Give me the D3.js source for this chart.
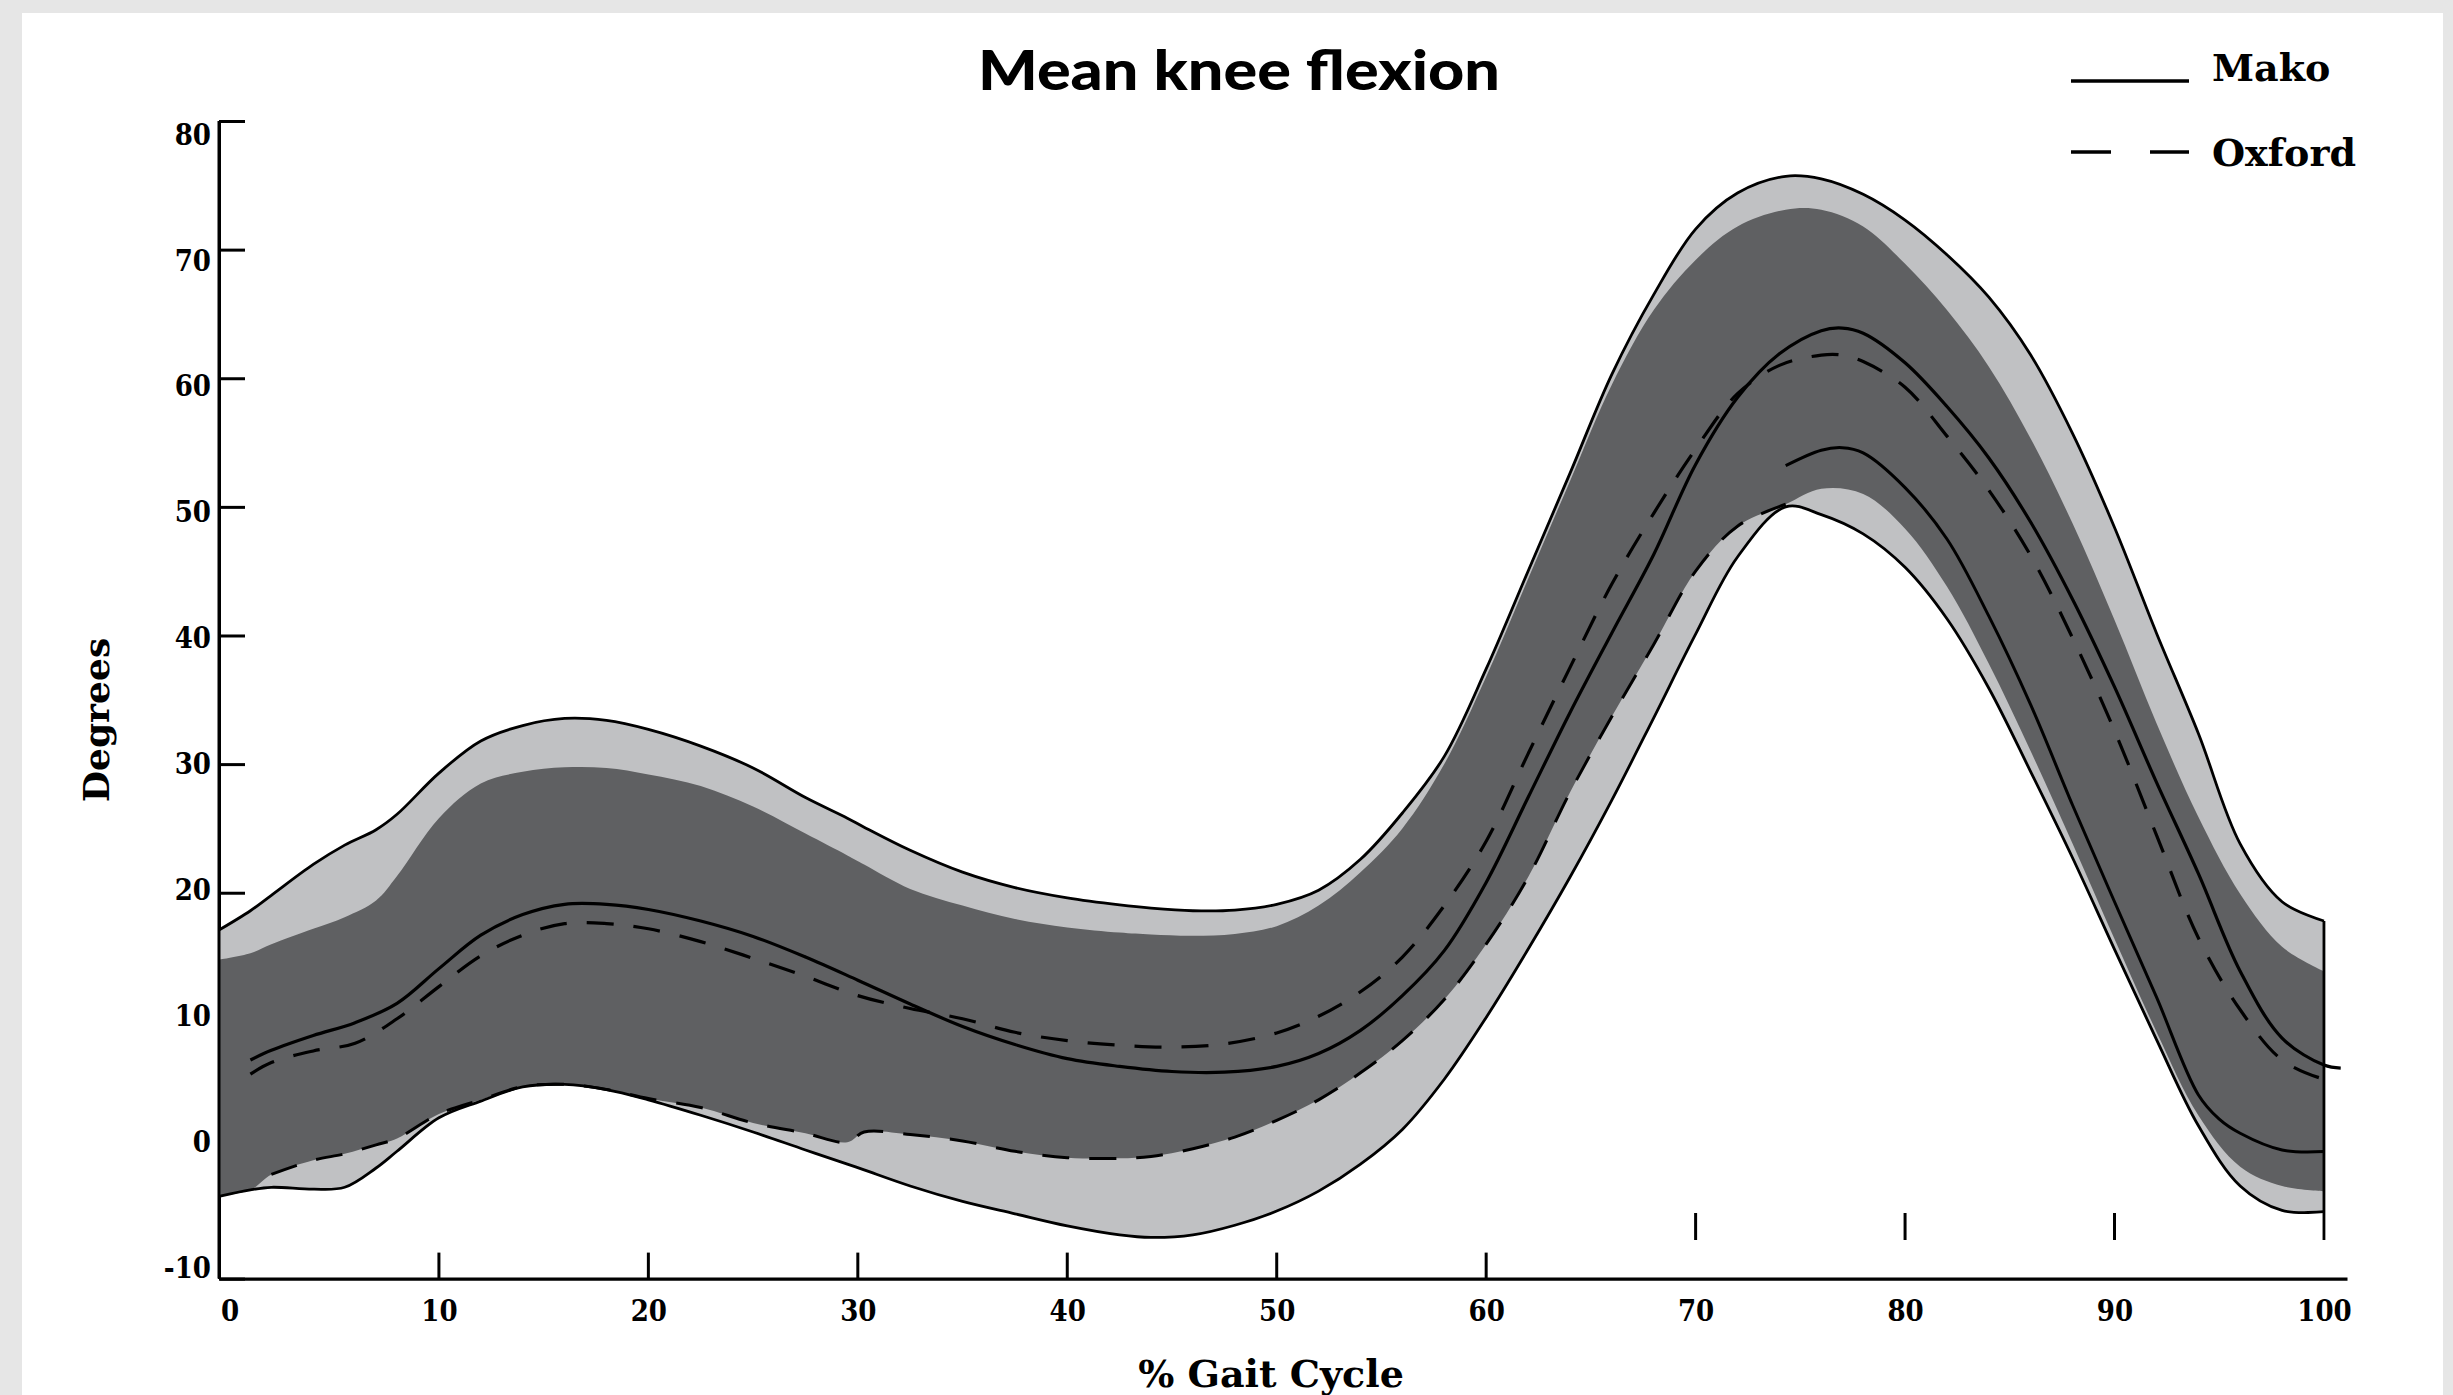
<!DOCTYPE html>
<html>
<head>
<meta charset="utf-8">
<script src="https://cdn.jsdelivr.net/npm/d3@7"></script>
<style>
  body { margin: 0; background: #e6e6e6; }
  svg { display: block; }
  .tick-label { font-family: "DejaVu Serif Condensed", "DejaVu Serif", serif; font-stretch: condensed; font-weight: bold; font-size: 29px; fill: #000; }
</style>
</head>
<body>
<div id="chart"></div>
<script>
// % gait cycle sample points shared by the band edges
var gait = [-0.5, 1, 2, 4, 5.5, 7, 8, 10, 12, 14, 16, 18, 20, 22.5, 25, 27.5, 29.5, 30.3, 32.5, 35, 37.5, 40, 42.5, 44, 46, 48,
  50, 52, 54, 56, 58, 60, 62, 64, 66, 68, 70, 72, 74.3, 76, 78, 80, 82, 84, 86, 88, 90, 92, 94, 96, 98, 100];

// light grey envelope (outlined in black)
var outerUpper = [17.1, 18.6, 19.8, 22.2, 23.7, 24.9, 26.1, 29.3, 31.8, 33.0, 33.55, 33.4, 32.7, 31.4, 29.7, 27.4, 25.8, 25.1, 23.3, 21.6, 20.4, 19.6, 19.05, 18.8, 18.6, 18.65,
  19.1, 20.2, 22.6, 26.2, 30.6, 37.4, 45.0, 52.6, 60.3, 66.5, 71.6, 74.4, 75.7, 75.5, 74.3, 72.3, 69.6, 66.3, 61.8, 55.7, 48.4, 40.2, 32.4, 23.8, 19.3, 17.8];
var outerLower = [-3.6, -3.1, -2.9, -3.05, -2.9, -1.4, -0.1, 2.5, 3.8, 4.9, 5.1, 4.7, 3.9, 2.7, 1.4, 0.0, -1.1, -1.55, -2.8, -4.0, -4.96, -5.9, -6.6, -6.8, -6.6, -5.85,
  -4.75, -3.2, -1.1, 1.6, 5.5, 10.3, 15.6, 21.2, 27.2, 33.6, 40.1, 46.1, 50.0, 49.4, 47.9, 45.3, 41.3, 35.9, 29.4, 22.7, 15.6, 8.6, 1.9, -2.8, -4.7, -4.8];

// dark grey band
var darkUpper = [14.8, 15.3, 16.0, 17.2, 18.1, 19.4, 21.3, 25.8, 28.5, 29.4, 29.75, 29.7, 29.2, 28.3, 26.7, 24.6, 22.9, 22.2, 20.3, 19.0, 17.95, 17.3, 16.9, 16.75, 16.65, 16.8,
  17.4, 19.0, 21.6, 25.0, 30.0, 36.8, 44.4, 52.0, 59.5, 65.3, 69.2, 71.8, 73.1, 73.1, 71.8, 68.9, 65.3, 60.9, 55.3, 48.7, 41.2, 33.2, 25.9, 19.9, 15.8, 13.9];
var darkLower = [-3.6, -3.1, -1.9, -0.8, -0.3, 0.4, 0.9, 2.8, 3.9, 4.93, 5.1, 4.7, 4.0, 3.3, 2.1, 1.3, 0.6, 1.4, 1.2, 0.7, -0.1, -0.6, -0.65, -0.5, 0.1, 1.0,
  2.3, 3.9, 6.0, 8.5, 11.7, 16.0, 21.2, 27.8, 33.7, 39.3, 45.0, 48.5, 50.2, 51.4, 51.0, 48.3, 43.8, 37.8, 31.0, 23.8, 16.4, 9.2, 2.7, -1.3, -2.8, -3.2];
var oxfordLowerRange = [2, 74.3];

// mean curves
var makoX = [1, 2, 4, 6, 8, 10, 12, 14, 16, 18, 20, 22.5, 25, 27.5, 30, 32.5, 35, 37.5, 40, 42.5, 45, 47.5, 50, 52, 54, 56, 58,
  60, 62, 64, 66, 68, 70, 72, 74, 76, 77, 78, 80, 82, 84, 86, 88, 90, 92, 94, 96, 98, 100, 100.8];
var makoMean = [7.0, 7.75, 8.9, 9.9, 11.4, 14.1, 16.7, 18.3, 19.1, 19.1, 18.7, 17.8, 16.6, 15.0, 13.2, 11.35, 9.6, 8.2, 7.1, 6.5, 6.1, 6.05, 6.5, 7.5, 9.3, 12.0, 15.5,
  20.8, 27.4, 34.0, 40.2, 46.3, 53.3, 58.5, 61.9, 63.7, 63.9, 63.5, 61.2, 57.8, 53.8, 48.8, 42.8, 36.0, 28.6, 21.5, 13.9, 8.7, 6.6, 6.36];
var oxfordX = [1, 2, 4, 6, 8, 10, 12, 14, 16, 18, 20, 22.5, 25, 27.5, 30, 32.5, 35, 37.5, 40, 42.5, 45, 47.5, 50, 52, 54, 56, 58,
  60, 62, 64, 66, 68, 70, 72, 74, 76, 77, 78, 80, 82, 84, 86, 88, 90, 92, 94, 96, 98, 100, 100.5];
var oxfordMean = [5.9, 6.8, 7.7, 8.3, 10.2, 12.7, 15.1, 16.7, 17.6, 17.6, 17.2, 16.2, 14.9, 13.5, 12.0, 11.0, 10.2, 9.15, 8.5, 8.15, 8.0, 8.25, 9.1, 10.4, 12.3, 15.0, 19.0,
  24.0, 30.8, 37.5, 44.0, 49.5, 54.5, 58.8, 61.0, 61.8, 61.8, 61.3, 59.3, 55.5, 51.3, 46.2, 39.8, 32.6, 24.5, 16.5, 10.9, 7.0, 5.5, 5.38];

// lower solid curve of swing phase
var makoLowX = [74.3, 76, 77, 78, 80, 82, 84, 86, 88, 90, 92, 94, 95, 96, 98, 100];
var makoLow = [53.2, 54.4, 54.6, 54.2, 51.5, 47.5, 41.5, 34.6, 26.8, 19.3, 11.9, 4.3, 2.4, 1.3, 0.0, -0.12];

var yTicks = [-10, 0, 10, 20, 30, 40, 50, 60, 70, 80];
var xTicks = [0, 10, 20, 30, 40, 50, 60, 70, 80, 90, 100];
var xBaseTicks = [10, 20, 30, 40, 50, 60];
var xFloatTicks = [70, 80, 90];

var W = 2453, H = 1395;
var darkGrey = "#5f6062", lightGrey = "#c0c1c3";

var svg = d3.select("#chart").append("svg").attr("width", W).attr("height", H);

svg.append("rect")
  .attr("x", 22).attr("y", 13)
  .attr("width", 2421).attr("height", H - 13)
  .attr("fill", "#fff");

var x = d3.scaleLinear().domain([-0.5, 101.1]).range([219, 2347]);
var y = d3.scaleLinear().domain([-10, 80]).range([1278.6, 121]);
// the printed labels sit on a slightly tighter column than the ticks
var yLabel = d3.scaleLinear().domain([-10, 80]).range([1267, 134]);

// y axis (ticks go under the bands)
var yAxisG = svg.append("g")
  .attr("transform", "translate(" + x(-0.5) + ",0)")
  .call(d3.axisLeft(y).tickValues(yTicks).tickSize(-26).tickSizeOuter(0).tickPadding(8).tickFormat(String));
yAxisG.selectAll(".tick line").attr("stroke", "#000").attr("stroke-width", 3);
yAxisG.select(".domain").attr("stroke", "#000").attr("stroke-width", 3);
yAxisG.selectAll(".tick text")
  .attr("class", "tick-label")
  .attr("y", function(d) { return yLabel(d) - y(d); })
  .attr("dy", "0.35em");

// x axis
var xAxisG = svg.append("g")
  .attr("transform", "translate(0," + y(-10) + ")")
  .call(d3.axisBottom(x).tickValues(xTicks).tickSize(0).tickSizeOuter(0).tickPadding(22).tickFormat(String));
xAxisG.select(".domain").attr("stroke", "#000").attr("stroke-width", 3.4);
xAxisG.selectAll(".tick text").attr("class", "tick-label");

svg.selectAll(".xbase")
  .data(xBaseTicks).enter().append("line")
  .attr("x1", function(d) { return x(d); }).attr("x2", function(d) { return x(d); })
  .attr("y1", y(-10)).attr("y2", y(-10) - 26)
  .attr("stroke", "#000").attr("stroke-width", 3);

var floatTop = 1213, floatBottom = 1240;
svg.selectAll(".xfloat")
  .data(xFloatTicks).enter().append("line")
  .attr("x1", function(d) { return x(d); }).attr("x2", function(d) { return x(d); })
  .attr("y1", floatTop).attr("y2", floatBottom)
  .attr("stroke", "#000").attr("stroke-width", 3);

// bands
var rows = gait.map(function(g, i) {
  return { g: g, ou: outerUpper[i], ol: outerLower[i], du: darkUpper[i], dl: darkLower[i] };
});
var curve = d3.curveCatmullRom.alpha(0.5);

svg.append("path").datum(rows)
  .attr("fill", lightGrey)
  .attr("d", d3.area().curve(curve)
    .x(function(d) { return x(d.g); })
    .y0(function(d) { return y(d.ol); })
    .y1(function(d) { return y(d.ou); }));

svg.append("path").datum(rows)
  .attr("fill", darkGrey)
  .attr("d", d3.area().curve(curve)
    .x(function(d) { return x(d.g); })
    .y0(function(d) { return y(d.dl); })
    .y1(function(d) { return y(d.du); }));

function line(xs, vs) {
  return d3.line().curve(curve)
    .x(function(d, i) { return x(xs[i]); })
    .y(function(d) { return y(d); })(vs);
}

svg.append("path").attr("d", line(gait, outerUpper))
  .attr("fill", "none").attr("stroke", "#000").attr("stroke-width", 2.8);
svg.append("path").attr("d", line(gait, outerLower))
  .attr("fill", "none").attr("stroke", "#000").attr("stroke-width", 2.8);

// dashed lower edge of the Oxford band
var oxLowRows = rows.filter(function(r) { return r.g >= oxfordLowerRange[0] && r.g <= oxfordLowerRange[1]; });
svg.append("path")
  .attr("d", line(oxLowRows.map(function(r) { return r.g; }), oxLowRows.map(function(r) { return r.dl; })))
  .attr("fill", "none").attr("stroke", "#000").attr("stroke-width", 3)
  .attr("stroke-dasharray", "27,20");

svg.append("path").attr("d", line(makoLowX, makoLow))
  .attr("fill", "none").attr("stroke", "#000").attr("stroke-width", 3);

svg.append("path").attr("d", line(makoX, makoMean))
  .attr("fill", "none").attr("stroke", "#000").attr("stroke-width", 3.2);
svg.append("path").attr("d", line(oxfordX, oxfordMean))
  .attr("fill", "none").attr("stroke", "#000").attr("stroke-width", 3.2)
  .attr("stroke-dasharray", "27,20");

// axis line and right-hand edge drawn over the bands
svg.append("line")
  .attr("x1", x(-0.5)).attr("x2", x(-0.5))
  .attr("y1", y(80)).attr("y2", y(-10))
  .attr("stroke", "#000").attr("stroke-width", 3);
svg.append("line")
  .attr("x1", x(100)).attr("x2", x(100))
  .attr("y1", y(outerUpper[outerUpper.length - 1])).attr("y2", floatBottom)
  .attr("stroke", "#000").attr("stroke-width", 2.8);

// title
svg.append("text")
  .attr("x", 1239).attr("y", 90)
  .attr("text-anchor", "middle")
  .attr("textLength", 522).attr("lengthAdjust", "spacingAndGlyphs")
  .attr("style", "font-family:Lato,'Noto Sans',sans-serif;font-weight:900;font-size:56px;fill:#000")
  .text("Mean knee flexion");

// axis titles
svg.append("text")
  .attr("transform", "translate(109,720) rotate(-90)")
  .attr("text-anchor", "middle")
  .attr("style", "font-family:'DejaVu Serif',serif;font-weight:bold;font-size:36px;fill:#000")
  .text("Degrees");

svg.append("text")
  .attr("x", 1271).attr("y", 1387)
  .attr("text-anchor", "middle")
  .attr("style", "font-family:'DejaVu Serif',serif;font-weight:bold;font-size:38px;fill:#000")
  .text("% Gait Cycle");

// legend
var legend = svg.append("g");
legend.append("line")
  .attr("x1", 2071).attr("x2", 2189).attr("y1", 81).attr("y2", 81)
  .attr("stroke", "#000").attr("stroke-width", 3.3);
legend.append("line")
  .attr("x1", 2071).attr("x2", 2189).attr("y1", 152).attr("y2", 152)
  .attr("stroke", "#000").attr("stroke-width", 3.3)
  .attr("stroke-dasharray", "40,39");
legend.append("text")
  .attr("x", 2212).attr("y", 81)
  .attr("style", "font-family:'DejaVu Serif',serif;font-weight:bold;font-size:38px;fill:#000")
  .text("Mako");
legend.append("text")
  .attr("x", 2212).attr("y", 166)
  .attr("style", "font-family:'DejaVu Serif',serif;font-weight:bold;font-size:38px;fill:#000")
  .text("Oxford");
</script>
</body>
</html>
